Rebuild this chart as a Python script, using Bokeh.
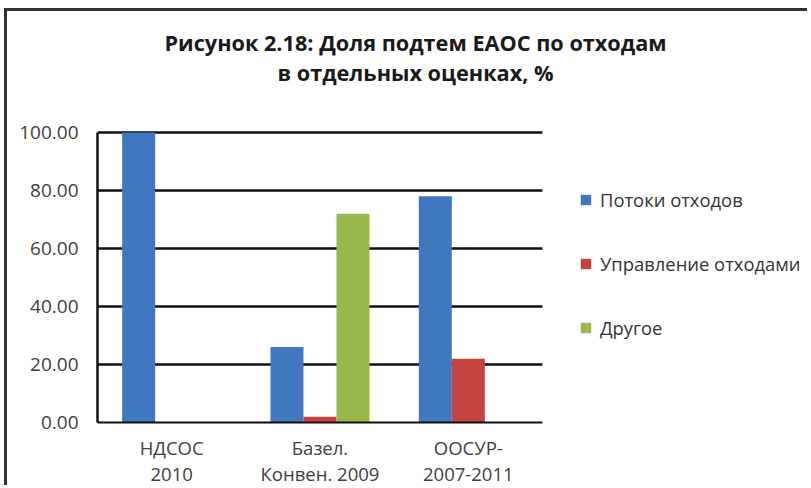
from bokeh.plotting import figure
from bokeh.models import (Range1d, ColumnDataSource, Legend, LegendItem, Label,
                          BoxAnnotation, NumeralTickFormatter, FixedTicker, LinearAxis)
from bokeh.transform import dodge
from bokeh.embed import file_html
from bokeh.resources import INLINE

# ---- data ----
categories = ["НДСОС\n2010", "Базел.\nКонвен. 2009", "ООСУР-\n2007-2011"]
series_names = ["Потоки отходов", "Управление отходами", "Другое"]
waste_streams = [100.0, 26.0, 78.0]
waste_management = [0.0, 2.0, 22.0]
other = [0.0, 72.0, 0.0]
y_ticks = [0, 20, 40, 60, 80, 100]
title_lines = ["Рисунок 2.18: Доля подтем ЕАОС по отходам", "в отдельных оценках, %"]

colors = ["#3F78C0", "#C4433D", "#98B94A"]
FONT = "Open Sans"

n_cat = len(categories)
cat_x = [i + 0.5 for i in range(n_cat)]
cat_line1 = [c.split("\n")[0] for c in categories]
cat_line2 = [c.split("\n")[1] for c in categories]
source = ColumnDataSource(dict(x=cat_x, s0=waste_streams, s1=waste_management, s2=other))

# frame spans the whole canvas right of the y labels; the chart occupies x in [0, 3]
p = figure(x_range=Range1d(0, 4.807), y_range=Range1d(0, 141.72),
           width=803, height=477, output_backend="svg", toolbar_location=None,
           min_border_left=90, min_border_right=0, min_border_top=0, min_border_bottom=66)
p.title = None
p.outline_line_color = None
p.styles = {"margin-top": "8px", "margin-left": "4px",
            "border-top": "3px solid #333333", "border-left": "3px solid #333333"}

bw = 0.2225
renderers = []
for i, (col, c) in enumerate(zip(["s0", "s1", "s2"], colors)):
    r = p.vbar(x=dodge("x", (i - 1) * bw), top=col, width=bw,
               source=source, fill_color=c, line_color=None)
    renderers.append(r)

# grid
p.xgrid.grid_line_color = None
p.ygrid.grid_line_color = "#111111"
p.ygrid.grid_line_width = 2.5
p.ygrid.ticker = FixedTicker(ticks=y_ticks)

# hide grid lines to the right of the chart area (legend zone)
p.add_layout(BoxAnnotation(left=n_cat, fill_color="white", fill_alpha=1.0,
                           line_alpha=0))

# y axis
p.yaxis.ticker = FixedTicker(ticks=y_ticks)
p.yaxis.bounds = (0, 100)
p.yaxis.formatter = NumeralTickFormatter(format="0.00")
p.yaxis.axis_line_color = "#111111"
p.yaxis.axis_line_width = 2.5
p.yaxis.major_tick_line_color = None
p.yaxis.minor_tick_line_color = None
p.yaxis.major_tick_out = 0
p.yaxis.major_label_standoff = 19
p.yaxis.major_label_text_font = FONT
p.yaxis.major_label_text_font_size = "19px"
p.yaxis.major_label_text_color = "#404040"

# x axis: first line of category labels
xa = p.xaxis[0]
xa.ticker = FixedTicker(ticks=cat_x)
xa.major_label_overrides = {x: c for x, c in zip(cat_x, cat_line1)}
xa.bounds = (0, n_cat)
xa.axis_line_color = "#111111"
xa.axis_line_width = 2
xa.major_tick_line_color = None
xa.minor_tick_line_color = None
xa.major_tick_out = 0
xa.major_tick_in = 0
xa.major_label_standoff = 12
xa.major_label_text_font = FONT
xa.major_label_text_font_size = "18.5px"
xa.major_label_text_color = "#404040"

# second line of category labels
xa2 = LinearAxis(ticker=FixedTicker(ticks=cat_x),
                 major_label_overrides={x: c for x, c in zip(cat_x, cat_line2)},
                 axis_line_color=None, major_tick_line_color=None,
                 minor_tick_line_color=None, major_tick_out=0, major_tick_in=0,
                 major_label_standoff=-2, major_label_text_font=FONT,
                 major_label_text_font_size="18.5px", major_label_text_color="#404040")
p.add_layout(xa2, "below")

# legend
items = [LegendItem(label=n, renderers=[r]) for n, r in zip(series_names, renderers)]
legend = Legend(items=items, location=(482, 82), orientation="vertical",
                glyph_width=13, glyph_height=13, label_height=20, spacing=39,
                label_standoff=8, padding=0, margin=0,
                border_line_color=None, background_fill_alpha=0,
                label_text_font=FONT, label_text_font_size="18.4px",
                label_text_color="#333333")
p.add_layout(legend, "center")

# title (two lines)
for txt, yy in zip(title_lines, [380, 350]):
    p.add_layout(Label(x=318, y=yy, x_units="screen", y_units="screen", text=txt,
                       text_align="center", text_baseline="middle",
                       text_font=FONT, text_font_style="bold", text_font_size="21.7px",
                       text_color="#1a1a1a"))

open("out.html", "w").write(file_html(p, INLINE))
